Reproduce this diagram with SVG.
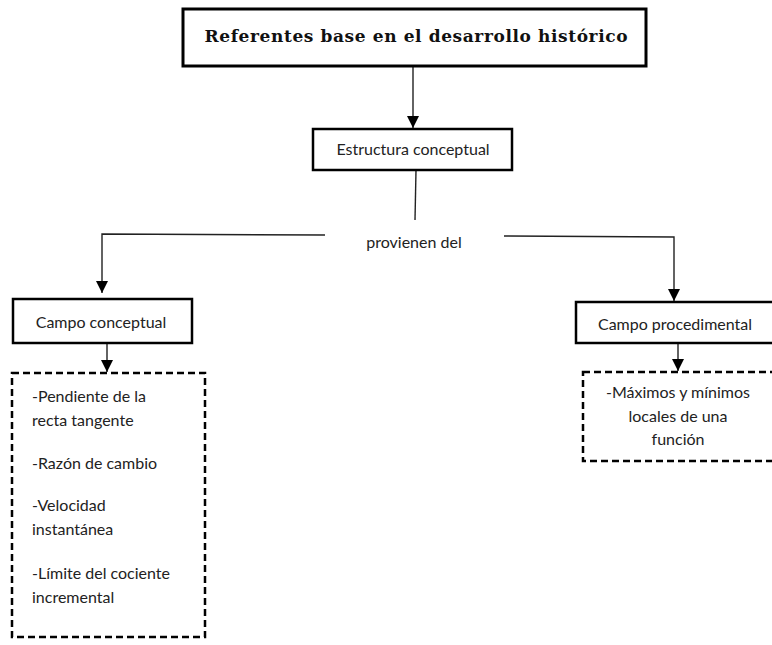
<svg xmlns="http://www.w3.org/2000/svg" width="772" height="645" viewBox="0 0 772 645">
  <style>
    .box { fill: #fff; stroke: #000; stroke-width: 2.5; }
    .dash { fill: #fff; stroke: #000; stroke-width: 2.5; stroke-dasharray: 7 4; }
    .wire { fill: none; stroke: #222; stroke-width: 1.4; }
    .lbl { font-family: Lato, "Open Sans", "Liberation Sans", sans-serif; font-size: 16px; fill: #222; }
    .title { font-family: "DejaVu Serif", "Liberation Serif", serif; font-weight: bold; font-size: 17px; fill: #111; }
  </style>
  <defs>
    <marker id="arrow" markerWidth="12" markerHeight="12" refX="12" refY="6" orient="auto" markerUnits="userSpaceOnUse">
      <path d="M0,0 L12,6 L0,12 Z" fill="#000"/>
    </marker>
  </defs>
  <rect width="772" height="645" fill="#fff"/>

  <g id="connectors">
    <line class="wire" x1="413" y1="66" x2="413" y2="128" marker-end="url(#arrow)"/>
    <line class="wire" x1="416" y1="170" x2="415" y2="220"/>
    <polyline class="wire" points="325,235 102,234 102,293" marker-end="url(#arrow)"/>
    <polyline class="wire" points="504,236 674,237 674,301" marker-end="url(#arrow)"/>
    <line class="wire" x1="107" y1="343" x2="107" y2="372" marker-end="url(#arrow)"/>
    <line class="wire" x1="678" y1="343" x2="678" y2="371" marker-end="url(#arrow)"/>
  </g>

  <g id="referentes">
    <rect x="183" y="9" width="463" height="57" fill="#fff" stroke="#000" stroke-width="3"/>
    <text class="title" x="416" y="42" text-anchor="middle" textLength="423" lengthAdjust="spacing">Referentes base en el desarrollo histórico</text>
  </g>

  <g id="estructura">
    <rect class="box" x="313" y="129" width="199" height="41"/>
    <text class="lbl" x="413" y="155" text-anchor="middle">Estructura conceptual</text>
  </g>

  <g id="provienen">
    <text class="lbl" x="414" y="248" text-anchor="middle">provienen del</text>
  </g>

  <g id="campo-conceptual">
    <rect class="box" x="13" y="299" width="179" height="44"/>
    <text class="lbl" x="101" y="328" text-anchor="middle">Campo conceptual</text>
  </g>

  <g id="campo-procedimental">
    <rect class="box" x="576" y="302" width="210" height="41"/>
    <text class="lbl" x="675" y="330" text-anchor="middle">Campo procedimental</text>
  </g>

  <g id="lista-conceptual">
    <rect class="dash" x="12" y="373" width="193" height="264"/>
    <text class="lbl" x="32" y="402">-Pendiente de la</text>
    <text class="lbl" x="32" y="426">recta tangente</text>
    <text class="lbl" x="32" y="469">-Razón de cambio</text>
    <text class="lbl" x="32" y="511">-Velocidad</text>
    <text class="lbl" x="32" y="535">instantánea</text>
    <text class="lbl" x="32" y="579">-Límite del cociente</text>
    <text class="lbl" x="32" y="603">incremental</text>
  </g>

  <g id="lista-procedimental">
    <rect class="dash" x="583" y="372" width="210" height="89"/>
    <text class="lbl" x="678" y="398" text-anchor="middle">-Máximos y mínimos</text>
    <text class="lbl" x="678" y="422" text-anchor="middle">locales de una</text>
    <text class="lbl" x="678" y="445" text-anchor="middle">función</text>
  </g>
</svg>
